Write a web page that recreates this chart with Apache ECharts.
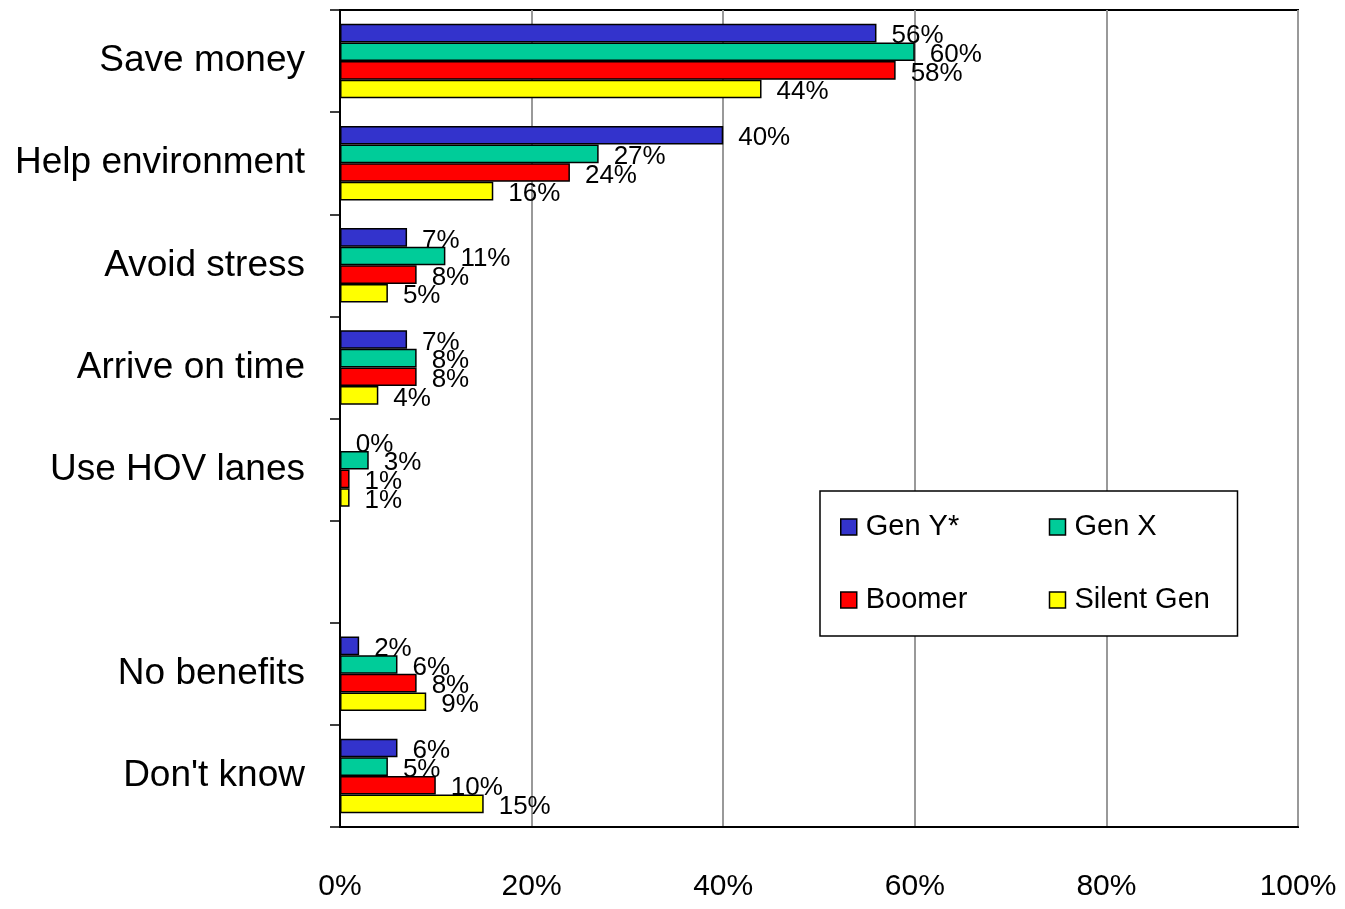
<!DOCTYPE html>
<html>
<head>
<meta charset="utf-8">
<script src="https://cdn.jsdelivr.net/npm/echarts@6/dist/echarts.min.js"></script>
<style>
  html, body { margin: 0; padding: 0; background: #fff; }
  #main { width: 1345px; height: 909px; }
</style>
</head>
<body>
<div id="main"></div>
<script>
// categories, top to bottom (one blank slot between HOV lanes and No benefits)
var categories = ['Save money', 'Help environment', 'Avoid stress', 'Arrive on time', 'Use HOV lanes', '', 'No benefits', "Don't know"];
var genY    = [56, 40, 7, 7, 0, null, 2, 6];
var genX    = [60, 27, 11, 8, 3, null, 6, 5];
var boomer  = [58, 24, 8, 8, 1, null, 8, 10];
var silent  = [44, 16, 5, 4, 1, null, 9, 15];
var seriesNames = ['Gen Y*', 'Gen X', 'Boomer', 'Silent Gen'];
var seriesColors = ['#3333CC', '#00CC99', '#FF0000', '#FFFF00'];

var font = '"Liberation Sans", Arial, sans-serif';

function makeSeries(name, data, color) {
    return {
        name: name,
        type: 'bar',
        data: data,
        barGap: '0%',
        barCategoryGap: '27%',
        itemStyle: {color: color, borderColor: '#000', borderWidth: 1.5},
        label: {
            show: true,
            position: 'right',
            distance: 15,
            offset: [0, 3],
            formatter: '{c}%',
            color: '#000',
            fontFamily: font,
            fontSize: 26
        }
    };
}

var myChart = echarts.init(document.getElementById('main'));
var option = {
    animation: false,
    grid: {
        left: 340, right: 47, top: 10, bottom: 82,
        show: true, borderColor: '#000', borderWidth: 2
    },
    legend: {
        left: 820, top: 491,
        width: 400,
        padding: [11, 3, 11, 20],
        itemGap: 23,
        itemWidth: 16, itemHeight: 16,
        icon: 'rect',
        borderColor: '#000', borderWidth: 1.5,
        backgroundColor: '#fff',
        itemStyle: {borderColor: '#000', borderWidth: 1.5},
        textStyle: {fontFamily: font, fontSize: 29, color: '#000', width: 160, lineHeight: 50, padding: [0, 0, 0, 4]},
        data: seriesNames
    },
    xAxis: {
        type: 'value',
        min: 0, max: 100, interval: 20,
        axisLine: {show: true, lineStyle: {color: '#000', width: 2}},
        axisTick: {show: false},
        splitLine: {show: true, lineStyle: {color: '#999', width: 2}},
        axisLabel: {formatter: '{value}%', margin: 45, color: '#000', fontFamily: font, fontSize: 30}
    },
    yAxis: {
        type: 'category',
        inverse: true,
        data: categories,
        axisLine: {show: true, lineStyle: {color: '#000', width: 2}},
        axisTick: {show: true, length: 10, lineStyle: {color: '#000', width: 1.5}},
        axisLabel: {margin: 35, color: '#000', fontFamily: font, fontSize: 37}
    },
    series: [
        makeSeries(seriesNames[0], genY, seriesColors[0]),
        makeSeries(seriesNames[1], genX, seriesColors[1]),
        makeSeries(seriesNames[2], boomer, seriesColors[2]),
        makeSeries(seriesNames[3], silent, seriesColors[3])
    ]
};
myChart.setOption(option);
</script>
</body>
</html>
